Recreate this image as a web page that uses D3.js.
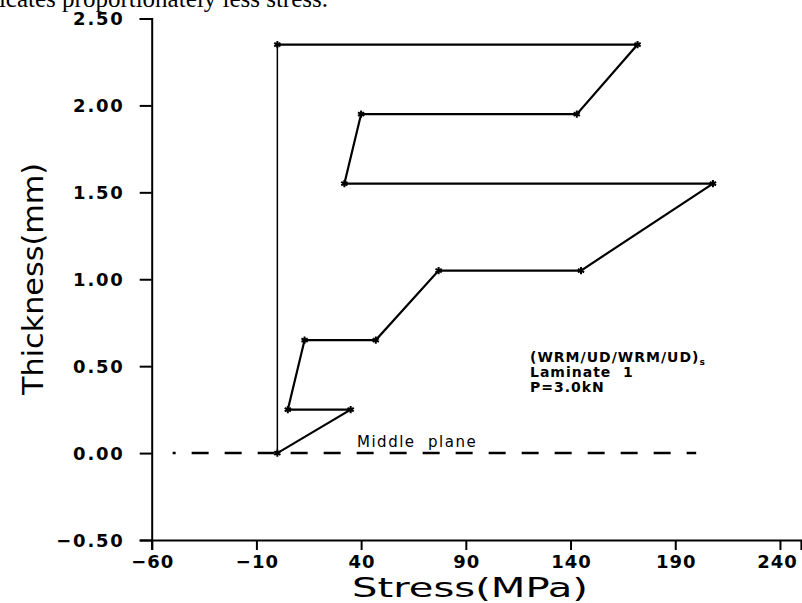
<!DOCTYPE html>
<html>
<head>
<meta charset="utf-8">
<script src="https://cdn.jsdelivr.net/npm/d3@7"></script>
<style>
  body { margin: 0; background: #fff; }
  svg { display: block; }
  text { font-family: "DejaVu Sans", sans-serif; fill: #000; }
</style>
</head>
<body>
<script>
// stress profile through the laminate (one half, closed back along x=0)
let stress    = [0, 35, 5, 13, 47, 77, 145, 208, 32, 40, 143, 172, 0]
let thickness = [0, 0.25, 0.25, 0.65, 0.65, 1.05, 1.05, 1.55, 1.55, 1.95, 1.95, 2.35, 2.35]

// middle plane (dashed)
let midStress = [-50, 200]
let midThick  = [0, 0]

let xTicks = [-60, -10, 40, 90, 140, 190, 240]
let yTicks = [-0.5, 0, 0.5, 1.0, 1.5, 2.0, 2.5]

let notes = ["Laminate  1", "P=3.0kN"]

let width = 802
let height = 603

let svg = d3.select("body").append("svg")
    .attr("width", width)
    .attr("height", height)

let x = d3.scaleLinear().domain([-60, 250]).range([151.7, 800.9])
let y = d3.scaleLinear().domain([-0.5, 2.5]).range([540, 18.5])

// clipped line of the surrounding document text
svg.append("text")
    .attr("x", 328)
    .attr("y", 7)
    .attr("text-anchor", "end")
    .style("font-family", "'Liberation Serif', serif")
    .style("font-size", "25px")
    .text("indicates proportionately less stress.")

// y axis
let yAxis = svg.append("g")
    .attr("transform", "translate(" + x(-60) + ",0)")
yAxis.call(d3.axisLeft(y).tickValues(d3.range(-0.5, 2.51, 0.1)).tickSize(7).tickFormat(""))
yAxis.call(d3.axisLeft(y).tickValues(yTicks).tickSize(12).tickPadding(15)
    .tickFormat(d => d3.format(".2f")(d).replace("-", "−")))
yAxis.selectAll("path.domain").attr("stroke-width", 2)
yAxis.selectAll("line").attr("stroke-width", 2)
yAxis.selectAll("text")
    .style("font-size", "18px")
    .style("font-weight", "bold")
    .style("letter-spacing", "1.8px")
    .attr("dy", "0.36em")

// x axis
let xAxis = svg.append("g")
    .attr("transform", "translate(0," + y(-0.5) + ")")
xAxis.call(d3.axisBottom(x).tickValues(d3.range(-60, 251, 10)).tickSize(7).tickFormat(""))
xAxis.call(d3.axisBottom(x).tickValues(xTicks).tickSize(10).tickPadding(5)
    .tickFormat(d => String(d).replace("-", "−")))
xAxis.selectAll("path.domain").attr("stroke-width", 2)
xAxis.selectAll("line").attr("stroke-width", 2)
xAxis.selectAll("text")
    .style("font-size", "18px")
    .style("font-weight", "bold")
    .style("letter-spacing", "1px")
    .attr("dx", d => d === 240 ? "-3px" : "0.5px")

// axis titles
svg.append("text")
    .attr("transform", "translate(43,279) rotate(-90)")
    .attr("text-anchor", "middle")
    .attr("textLength", 232)
    .attr("lengthAdjust", "spacingAndGlyphs")
    .style("font-size", "28px")
    .text("Thickness(mm)")

svg.append("text")
    .attr("x", 470)
    .attr("y", 597)
    .attr("text-anchor", "middle")
    .attr("textLength", 236)
    .attr("lengthAdjust", "spacingAndGlyphs")
    .style("font-size", "27px")
    .text("Stress(MPa)")

// middle plane
svg.append("line")
    .attr("x1", x(midStress[0])).attr("y1", y(midThick[0]))
    .attr("x2", x(midStress[1])).attr("y2", y(midThick[1]))
    .attr("stroke", "#000")
    .attr("stroke-width", 2.5)
    .attr("stroke-dasharray", "17,16")
    .attr("stroke-dashoffset", 14)

svg.append("text")
    .attr("x", 357)
    .attr("y", 447)
    .style("font-size", "15px")
    .style("letter-spacing", "1.5px")
    .style("white-space", "pre")
    .text("Middle  plane")

// stress profile
let pts = stress.map((s, i) => [s, thickness[i]])
let line = d3.line().x(d => x(d[0])).y(d => y(d[1]))

svg.append("path")
    .attr("d", line(pts))
    .attr("fill", "none")
    .attr("stroke", "#000")
    .attr("stroke-width", 2.2)

// closing segment back down to the mid plane
svg.append("path")
    .attr("d", line([pts[pts.length - 1], pts[0]]))
    .attr("fill", "none")
    .attr("stroke", "#000")
    .attr("stroke-width", 1.5)

svg.selectAll("path.mark")
    .data(pts)
    .enter()
    .append("path")
    .attr("class", "mark")
    .attr("transform", d => "translate(" + x(d[0]) + "," + y(d[1]) + ")")
    .attr("d", d3.symbol(d3.symbolAsterisk, 36))
    .attr("fill", "none")
    .attr("stroke", "#000")
    .attr("stroke-width", 2)

// laminate note
let note = svg.append("g")
    .style("font-size", "14px")
    .style("font-weight", "bold")
    .style("letter-spacing", "1px")

let t1 = note.append("text")
    .attr("x", 530)
    .attr("y", 362)
t1.append("tspan").text("(WRM/UD/WRM/UD)")
t1.append("tspan").attr("dy", 3).style("font-size", "9px").text("s")

note.selectAll("text.line")
    .data(notes)
    .enter()
    .append("text")
    .attr("class", "line")
    .attr("x", 530)
    .attr("y", (d, i) => 377 + i * 14.5)
    .style("white-space", "pre")
    .text(d => d)
</script>
</body>
</html>
